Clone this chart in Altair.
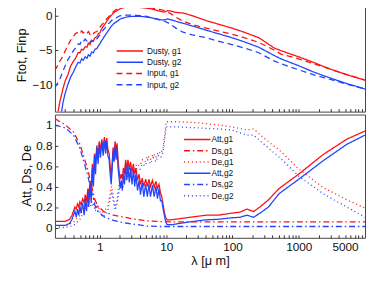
import altair as alt
import pandas as pd

RED = "#ff1010"
BLUE = "#2244ff"

# ---------------- top panel: log flux ----------------
top_lam = [0.21, 0.25, 0.28, 0.3, 0.33, 0.36, 0.4, 0.43, 0.47, 0.5,
           0.53, 0.56, 0.6, 0.64, 0.67, 0.71, 0.75, 0.8, 0.84, 0.9,
           0.95, 1.0, 1.05, 1.12, 1.19, 1.25, 1.31, 1.4, 1.5, 1.6,
           1.7, 1.84, 2.0, 2.2, 2.5, 2.9, 3.5, 4.2, 5.1, 6.0,
           7.2, 8.5, 9.5, 10.5, 11.5, 14, 18, 25, 40, 60,
           98, 150, 250, 425, 540, 1000, 1660, 3000, 5300, 10000]
dusty_g1 = [-16.5, -12.5, -10.5, -9.5, -8.6, -7.4, -6.6, -6.2, -5.4, -5.4,
            -4.9, -5.0, -4.5, -4.6, -4.0, -4.2, -3.6, -3.7, -3.2, -3.1,
            -2.6, -2.5, -2.0, -1.6, -1.2, -0.9, -0.6, -0.2, 0.1, 0.4,
            0.6, 0.8, 1.0, 1.15, 1.25, 1.3, 1.25, 1.2, 1.1, 1.0,
            0.8, 0.6, 0.55, 0.75, 0.7, 0.5, 0.4, 0.0, -0.7, -1.2,
            -1.8, -2.4, -3.2, -4.7, -5.1, -6.0, -6.8, -7.8, -8.6, -9.4]
dusty_g2 = [-18.0, -15.5, -12.5, -11.3, -10.0, -9.0, -8.2, -7.5, -6.8, -6.9,
            -6.3, -6.5, -6.0, -6.2, -5.7, -5.9, -5.3, -5.4, -4.9, -4.8,
            -4.4, -4.1, -3.7, -3.3, -2.9, -2.6, -2.3, -1.9, -1.5, -1.2,
            -1.0, -0.8, -0.5, -0.35, -0.2, -0.1, -0.1, -0.1, -0.2, -0.3,
            -0.45, -0.6, -0.6, -0.45, -0.55, -0.8, -1.1, -1.5, -2.1, -2.6,
            -3.2, -3.8, -4.6, -5.8, -6.3, -7.3, -8.2, -9.1, -9.9, -10.7]
input_g1 = [-8.0, -6.6, -5.8, -5.1, -4.3, -3.6, -3.0, -2.6, -2.4, -2.6,
            -2.2, -2.5, -2.3, -2.6, -2.3, -2.7, -2.4, -2.6, -2.4, -2.3,
            -2.0, -1.7, -1.4, -1.1, -0.8, -0.5, -0.3, 0.0, 0.3, 0.6,
            0.8, 1.0, 1.3, 1.4, 1.5, 1.5, 1.5, 1.45, 1.3, 1.15,
            1.0, 0.85, 0.75, 0.5, 0.35, -0.2, -0.8, -1.3, -1.8, -2.2,
            -2.7, -3.2, -3.9, -5.0, -5.6, -6.3, -7.0, -7.8, -8.6, -9.4]
input_g2 = [-10.5, -9.2, -8.0, -7.3, -6.4, -5.8, -5.1, -4.7, -4.1, -4.2,
            -3.6, -3.8, -3.4, -3.7, -3.5, -3.9, -3.6, -3.8, -3.6, -3.4,
            -3.1, -2.8, -2.5, -2.1, -1.8, -1.5, -1.3, -1.0, -0.7, -0.5,
            -0.35, -0.2, 0.0, 0.05, 0.1, 0.1, 0.05, 0.0, -0.1, -0.3,
            -0.5, -0.7, -0.8, -1.0, -1.2, -1.8, -2.4, -2.8, -3.2, -3.7,
            -4.2, -4.7, -5.4, -6.6, -7.0, -7.9, -8.6, -9.3, -10.0, -10.7]
top_series = ["Dusty, g1", "Dusty, g2", "Input, g1", "Input, g2"]

# ---------------- bottom panel ----------------
att_lam = [0.21, 0.30, 0.35, 0.38, 0.40, 0.42, 0.44, 0.46, 0.48, 0.50,
           0.52, 0.55, 0.58, 0.60, 0.63, 0.66, 0.68, 0.71, 0.74, 0.77,
           0.80, 0.83, 0.86, 0.90, 0.94, 0.98, 1.02, 1.07, 1.12, 1.17,
           1.22, 1.27, 1.32, 1.38, 1.43, 1.48, 1.53, 1.58, 1.64, 1.70,
           1.76, 1.82, 1.88, 1.95, 2.02, 2.10, 2.18, 2.26, 2.35, 2.45,
           2.55, 2.65, 2.78, 2.90, 3.05, 3.20, 3.35, 3.50, 3.70, 3.90,
           4.10, 4.35, 4.60, 4.90, 5.20, 5.50, 5.80, 6.20, 6.60, 7.00,
           7.40, 7.80, 8.20, 8.60, 9.00, 9.40, 9.80, 10.3, 12, 20,
           30, 40, 60, 98, 130, 165, 208, 260, 350, 505,
           1000, 2330, 5300, 10000]
att_g1 = [0.06, 0.06, 0.08, 0.12, 0.16, 0.20, 0.18, 0.23, 0.20, 0.25,
          0.22, 0.28, 0.24, 0.32, 0.26, 0.38, 0.30, 0.45, 0.36, 0.62,
          0.50, 0.72, 0.62, 0.80, 0.70, 0.84, 0.74, 0.86, 0.77, 0.88,
          0.79, 0.87, 0.76, 0.72, 0.60, 0.50, 0.62, 0.78, 0.72, 0.84,
          0.74, 0.82, 0.66, 0.55, 0.47, 0.52, 0.47, 0.58, 0.52, 0.66,
          0.56, 0.66, 0.56, 0.64, 0.54, 0.62, 0.52, 0.58, 0.46, 0.52,
          0.42, 0.48, 0.40, 0.47, 0.40, 0.47, 0.40, 0.46, 0.39, 0.45,
          0.38, 0.42, 0.34, 0.30, 0.22, 0.15, 0.10, 0.075, 0.075, 0.095,
          0.11, 0.12, 0.12, 0.14, 0.15, 0.18, 0.155, 0.20, 0.27, 0.38,
          0.52, 0.71, 0.86, 0.94]
att_g2 = [0.02, 0.02, 0.04, 0.08, 0.12, 0.16, 0.10, 0.18, 0.12, 0.21,
          0.14, 0.24, 0.12, 0.28, 0.16, 0.36, 0.20, 0.42, 0.24, 0.58,
          0.40, 0.70, 0.52, 0.78, 0.62, 0.82, 0.68, 0.84, 0.70, 0.85,
          0.72, 0.84, 0.70, 0.66, 0.52, 0.42, 0.56, 0.74, 0.64, 0.80,
          0.66, 0.78, 0.58, 0.48, 0.38, 0.46, 0.36, 0.52, 0.42, 0.62,
          0.46, 0.60, 0.44, 0.58, 0.42, 0.56, 0.40, 0.52, 0.36, 0.46,
          0.32, 0.44, 0.30, 0.42, 0.30, 0.42, 0.30, 0.41, 0.30, 0.40,
          0.28, 0.38, 0.26, 0.26, 0.18, 0.12, 0.06, 0.03, 0.027, 0.05,
          0.065, 0.075, 0.08, 0.095, 0.10, 0.12, 0.10, 0.14, 0.20, 0.33,
          0.47, 0.65, 0.81, 0.90]

ds_lam = [0.21, 0.3, 0.4, 0.5, 0.58, 0.665, 0.75, 0.84, 0.95, 1.19,
          1.6, 2.34, 3.5, 5.1, 8, 15, 10000]
ds_g1 = [1.06, 1.0, 0.93, 0.81, 0.68, 0.55, 0.40, 0.27, 0.20, 0.15,
         0.12, 0.10, 0.08, 0.065, 0.058, 0.055, 0.055]
ds_g2 = [1.0, 0.97, 0.9, 0.77, 0.63, 0.49, 0.35, 0.22, 0.15, 0.10,
         0.07, 0.045, 0.03, 0.015, 0.01, 0.01, 0.01]

de_lam = [0.21, 0.3, 0.4, 0.5, 0.6, 0.68, 0.75, 0.8, 0.85, 0.9,
          0.95, 1.0, 1.1, 1.2, 1.3, 1.4, 1.5, 1.6, 1.7, 1.8,
          1.9, 2.0, 2.2, 2.4, 2.6, 2.8, 3.0, 3.3, 3.6, 4.0,
          4.4, 4.8, 5.3, 5.8, 6.4, 7.0, 7.6, 8.3, 9.0, 9.5,
          10, 15, 30, 60, 98, 165, 208, 300, 540, 1000,
          2330, 5300, 10000]
de_g1 = [0.01, 0.02, 0.05, 0.12, 0.22, 0.30, 0.25, 0.28, 0.20, 0.24,
         0.18, 0.20, 0.15, 0.17, 0.20, 0.30, 0.40, 0.30, 0.20, 0.25,
         0.38, 0.45, 0.42, 0.50, 0.55, 0.50, 0.58, 0.55, 0.62, 0.60,
         0.66, 0.64, 0.70, 0.66, 0.72, 0.68, 0.74, 0.72, 0.78, 0.90,
         1.03, 1.03, 1.02, 1.0, 0.98, 0.95, 0.96, 0.87, 0.74, 0.57,
         0.39, 0.27, 0.19]
de_g2 = [0.0, 0.0, 0.02, 0.08, 0.18, 0.25, 0.20, 0.24, 0.16, 0.20,
         0.14, 0.15, 0.10, 0.12, 0.15, 0.25, 0.35, 0.25, 0.17, 0.22,
         0.32, 0.40, 0.38, 0.45, 0.50, 0.46, 0.53, 0.50, 0.57, 0.56,
         0.62, 0.60, 0.66, 0.62, 0.68, 0.64, 0.70, 0.68, 0.74, 0.86,
         0.98, 0.98, 0.97, 0.96, 0.95, 0.90, 0.90, 0.81, 0.67, 0.50,
         0.33, 0.20, 0.10]
bot_series = ["Att,g1", "Ds,g1", "De,g1", "Att,g2", "Ds,g2", "De,g2"]

x_tick_values = [0.3, 0.4, 0.5, 0.6, 0.7, 0.8, 0.9,
                 1, 2, 3, 4, 5, 6, 7, 8, 9,
                 10, 20, 30, 40, 50, 60, 70, 80, 90,
                 100, 200, 300, 400, 500, 600, 700, 800, 900,
                 1000, 2000, 3000, 4000, 5000, 6000, 7000, 8000, 9000]
x_label_values = [1, 10, 100, 1000, 5000]
top_y_ticks = [-10, -5, 0]
bot_y_ticks = [0, 0.2, 0.4, 0.6, 0.8, 1]


def to_long(lam, pairs):
    rows = []
    for name, vals in pairs:
        for l, v in zip(lam, vals):
            rows.append({"lam": l, "val": v, "series": name})
    return rows


top_df = pd.DataFrame(to_long(top_lam, [("Dusty, g1", dusty_g1), ("Dusty, g2", dusty_g2),
                                        ("Input, g1", input_g1), ("Input, g2", input_g2)]))
bot_df = pd.DataFrame(
    to_long(att_lam, [("Att,g1", att_g1), ("Att,g2", att_g2)])
    + to_long(ds_lam, [("Ds,g1", ds_g1), ("Ds,g2", ds_g2)])
    + to_long(de_lam, [("De,g1", de_g1), ("De,g2", de_g2)])
)

FONT = "Liberation Sans"
T = 3
W = 317
xscale = alt.Scale(type="log", domain=[0.21, 10000], nice=False)
label_expr = ("indexof([" + ",".join(str(v) for v in x_label_values)
              + "], datum.value) >= 0 ? format(datum.value, 'd') : ''")


def legend(x, y, offset):
    return alt.Legend(orient="none", legendX=x, legendY=y, title=None,
                      labelFontSize=8.5, labelFont=FONT, labelColor="#111",
                      symbolType="M-3,0H3", symbolSize=81, symbolStrokeWidth=1.5,
                      rowPadding=1.5, labelOffset=offset, padding=0, labelLimit=200)


top = alt.Chart(top_df).mark_line(clip=True, strokeWidth=1.3).encode(
    x=alt.X("lam:Q", scale=xscale,
            axis=alt.Axis(values=x_tick_values, labels=False, title=None, domain=False,
                          tickSize=T, offset=-T, grid=False, tickColor="#333")),
    y=alt.Y("val:Q", scale=alt.Scale(domain=[-14, 2.143], nice=False, zero=False),
            axis=alt.Axis(values=top_y_ticks, title="Ftot, Finp", domain=False, grid=False,
                          tickSize=T, offset=-T, labelPadding=3, tickColor="#333",
                          titleX=-37, titleY=55, titleAngle=-90, titleBaseline="middle",
                          titleAlign="center")),
    color=alt.Color("series:N", scale=alt.Scale(domain=top_series, range=[RED, BLUE, RED, BLUE]),
                    legend=legend(71, 45.5, 12)),
    strokeDash=alt.StrokeDash("series:N",
                              scale=alt.Scale(domain=top_series,
                                              range=[[1, 0], [1, 0], [6, 4], [6, 4]]),
                              legend=legend(71, 45.5, 12)),
).properties(width=W, height=113)

bottom = alt.Chart(bot_df).mark_line(clip=True, strokeWidth=1.3).encode(
    x=alt.X("lam:Q", scale=xscale,
            axis=alt.Axis(values=x_tick_values, labelExpr=label_expr, title="λ [μ m]",
                          domain=False, tickSize=T, offset=-T, labelPadding=4, grid=False,
                          labelFlush=False, labelOverlap=False, tickColor="#333",
                          titlePadding=2)),
    y=alt.Y("val:Q", scale=alt.Scale(domain=[-0.1, 1.1], nice=False, zero=False),
            axis=alt.Axis(values=bot_y_ticks, format="~g", title="Att, Ds, De", domain=False,
                          grid=False, tickSize=T, offset=-T, labelPadding=3, tickColor="#333",
                          titleX=-32, titleY=62, titleAngle=-90, titleBaseline="middle",
                          titleAlign="center")),
    color=alt.Color("series:N", scale=alt.Scale(domain=bot_series,
                                                range=[RED, RED, RED, BLUE, BLUE, BLUE]),
                    legend=legend(140, 20, 9)),
    strokeDash=alt.StrokeDash("series:N",
                              scale=alt.Scale(domain=bot_series,
                                              range=[[1, 0], [6, 3, 1.5, 3], [1, 3],
                                                     [1, 0], [6, 3, 1.5, 3], [1, 3]]),
                              legend=legend(140, 20, 9)),
).properties(width=W, height=126)

chart = alt.vconcat(top, bottom, spacing=1).resolve_scale(
    color="independent", strokeDash="independent"
).properties(
    padding={"left": 7, "top": -11, "right": 0, "bottom": 0}
).configure_view(
    stroke="#444", strokeWidth=1
).configure_axis(
    labelFont=FONT, titleFont=FONT, labelFontSize=12, titleFontSize=13,
    labelColor="#111", titleColor="#111", titleFontWeight="normal"
)

chart.save("out.html", embed_options={"renderer": "svg", "actions": False})
